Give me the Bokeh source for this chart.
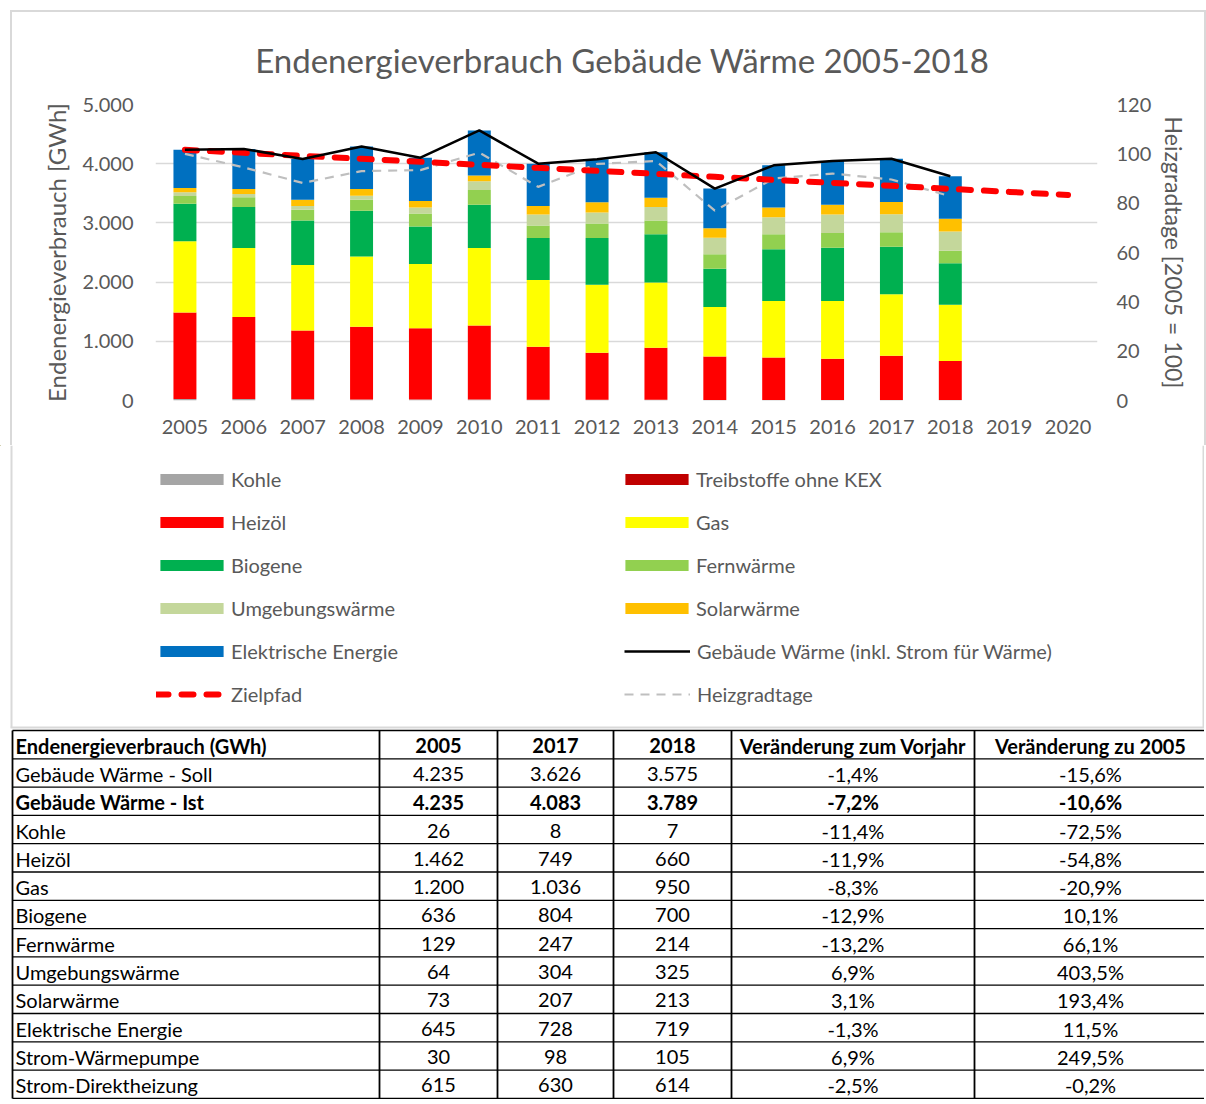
from bokeh.plotting import figure
from bokeh.models import (FactorRange, Range1d, LinearAxis, FixedTicker, CustomJSTickFormatter,
                          Legend, LegendItem, ColumnDataSource)
from bokeh.core.properties import value
from bokeh.embed import file_html
from bokeh.resources import INLINE

FONT = "Lato"
GREY_TXT = "#595959"
BOX = "#d9d9d9"

# ---------------- data ----------------
years = ["2005", "2006", "2007", "2008", "2009", "2010", "2011", "2012",
         "2013", "2014", "2015", "2016", "2017", "2018", "2019", "2020"]
bar_years = ["2005", "2006", "2007", "2008", "2009", "2010", "2011", "2012",
             "2013", "2014", "2015", "2016", "2017", "2018"]

kohle = [26, 24, 20, 19, 17, 16, 13, 12, 11, 10, 10, 9, 8, 7]
treibstoffe = [0, 0, 0, 0, 0, 0, 0, 0, 0, 0, 0, 0, 0, 0]
heizoel = [1462, 1385, 1162, 1225, 1205, 1251, 896, 795, 881, 734, 717, 696, 749, 660]
gas = [1200, 1165, 1108, 1188, 1085, 1307, 1125, 1148, 1102, 836, 955, 977, 1036, 950]
biogene = [636, 693, 750, 773, 631, 733, 710, 789, 813, 647, 875, 898, 804, 700]
fernwaerme = [129, 165, 182, 187, 221, 250, 211, 245, 233, 245, 250, 250, 247, 214]
umgebung = [64, 57, 62, 68, 102, 148, 187, 187, 227, 278, 290, 312, 304, 325]
solar = [73, 85, 108, 114, 108, 96, 142, 171, 159, 159, 164, 165, 207, 213]
elektrisch = [645, 676, 688, 716, 733, 761, 716, 727, 767, 671, 711, 738, 728, 719]

gebaeude_waerme = [4235, 4250, 4080, 4290, 4102, 4562, 4000, 4074, 4193, 3580, 3972, 4045, 4083, 3789]
zielpfad = [4235, 4184, 4133, 4083, 4032, 3981, 3930, 3880, 3829, 3778, 3727, 3677, 3626, 3575, 3524, 3473]
heizgradtage = [100, 94.5, 88.2, 93, 93.4, 100.5, 86.6, 95.9, 97.1, 77, 90, 92, 89.6, 82.8]

left_ticks = [0, 1000, 2000, 3000, 4000, 5000]
right_ticks = [0, 20, 40, 60, 80, 100, 120]

series_names = ["Kohle", "Treibstoffe ohne KEX", "Heizöl", "Gas", "Biogene", "Fernwärme",
                "Umgebungswärme", "Solarwärme", "Elektrische Energie"]
series_colors = ["#a5a5a5", "#c00000", "#ff0000", "#ffff00", "#00b050", "#92d050",
                 "#c4d79b", "#ffc000", "#0070c0"]

table_header = ["Endenergieverbrauch (GWh)", "2005", "2017", "2018",
                "Veränderung zum Vorjahr", "Veränderung zu 2005"]
table_labels = ["Gebäude Wärme - Soll", "Gebäude Wärme - Ist", "Kohle", "Heizöl", "Gas", "Biogene",
                "Fernwärme", "Umgebungswärme", "Solarwärme", "Elektrische Energie",
                "Strom-Wärmepumpe", "Strom-Direktheizung"]
t_2005 = ["4.235", "4.235", "26", "1.462", "1.200", "636", "129", "64", "73", "645", "30", "615"]
t_2017 = ["3.626", "4.083", "8", "749", "1.036", "804", "247", "304", "207", "728", "98", "630"]
t_2018 = ["3.575", "3.789", "7", "660", "950", "700", "214", "325", "213", "719", "105", "614"]
t_vorjahr = ["-1,4%", "-7,2%", "-11,4%", "-11,9%", "-8,3%", "-12,9%", "-13,2%", "6,9%", "3,1%",
             "-1,3%", "6,9%", "-2,5%"]
t_zu2005 = ["-15,6%", "-10,6%", "-72,5%", "-54,8%", "-20,9%", "10,1%", "66,1%", "403,5%",
            "193,4%", "11,5%", "249,5%", "-0,2%"]
bold_rows = [1]

# ---------------- chart (page y 10..445) ----------------
p = figure(width=1196, height=435, x_range=FactorRange(factors=years), y_range=Range1d(0, 5000),
           output_backend="svg", toolbar_location=None,
           min_border_left=143, min_border_right=111, min_border_top=92, min_border_bottom=47)
p.styles = {"margin-left": "10px", "margin-top": "10px", "box-sizing": "border-box",
            "border-top": "2px solid " + BOX, "border-left": "2px solid " + BOX,
            "border-right": "2px solid " + BOX}
p.outline_line_color = None
p.title.text = "Endenergieverbrauch  Gebäude Wärme 2005-2018"
p.title.align = "center"
p.title.vertical_align = "top"
p.title.text_font = FONT
p.title.text_font_size = "33px"
p.title.text_font_style = "normal"
p.title.text_color = GREY_TXT
p.title.standoff = 46

src = ColumnDataSource(dict(year=bar_years, s0=kohle, s1=treibstoffe, s2=heizoel, s3=gas, s4=biogene,
                            s5=fernwaerme, s6=umgebung, s7=solar, s8=elektrisch,
                            total=gebaeude_waerme, hgt=heizgradtage))
stack_keys = ["s0", "s1", "s2", "s3", "s4", "s5", "s6", "s7", "s8"]
p.vbar_stack(stack_keys, x="year", width=0.39, color=series_colors, line_width=0, source=src)

p.extra_y_ranges = {"hgt": Range1d(0, 120)}
HGT_STYLE = dict(line_color="#bfbfbf", line_width=2.2, line_dash="9 7")
ZIEL_STYLE = dict(line_color="#ff0000", line_width=6, line_dash="12 13", line_cap="round")
TOT_STYLE = dict(line_color="black", line_width=2.5)
p.line("year", "hgt", source=src, y_range_name="hgt", **HGT_STYLE)
p.line(years, zielpfad, **ZIEL_STYLE)
p.line("year", "total", source=src, **TOT_STYLE)

fmt = CustomJSTickFormatter(code="""
var s = Math.round(tick).toString();
return s.replace(/\\B(?=(\\d{3})+(?!\\d))/g, '.');
""")
yax = p.yaxis[0]
yax.ticker = FixedTicker(ticks=left_ticks)
yax.formatter = fmt
yax.axis_label = "Endenergieverbrauch [GWh]"

rax = LinearAxis(y_range_name="hgt", ticker=FixedTicker(ticks=right_ticks),
                 axis_label="Heizgradtage [2005 = 100]")
p.add_layout(rax, "right")

for ax in [yax, rax, p.xaxis[0]]:
    ax.axis_line_color = None
    ax.major_tick_line_color = None
    ax.minor_tick_line_color = None
    ax.major_tick_out = 0
    ax.major_tick_in = 0
    ax.minor_tick_out = 0
    ax.major_label_text_font = FONT
    ax.major_label_text_font_size = "20px"
    ax.major_label_text_color = GREY_TXT
    ax.axis_label_text_font = FONT
    ax.axis_label_text_font_style = "normal"
    ax.axis_label_text_color = GREY_TXT
yax.axis_label_text_font_size = "24px"
rax.axis_label_text_font_size = "23px"
yax.major_label_standoff = 22
yax.axis_label_standoff = 8
rax.major_label_standoff = 19
rax.axis_label_standoff = 6
p.xaxis[0].major_label_standoff = 19

p.xgrid.grid_line_color = None
p.ygrid.grid_line_color = BOX
p.ygrid.grid_line_width = 1.5
p.ygrid.ticker = FixedTicker(ticks=left_ticks)

# ---------------- legend + table (page y 445..1102) ----------------
TOP_PAGE = 445
LW, LH = 1204, 657
lp = figure(width=LW, height=LH, x_range=Range1d(0, LW), y_range=Range1d(LH, 0),
            output_backend="svg", toolbar_location=None,
            min_border_left=0, min_border_right=0, min_border_top=0, min_border_bottom=0)
lp.axis.visible = False
lp.grid.grid_line_color = None
lp.outline_line_color = None

# lower part of the chart box
box_bottom = 727 - TOP_PAGE
lp.segment(x0=[11, 1203, 10], x1=[11, 1203, 1204], y0=[0, 0, box_bottom], y1=[box_bottom, box_bottom, box_bottom],
           line_color=BOX, line_width=2)

# legend proxies: one point each, placed outside the visible range
OFF = -1000
proxies = []
for c in series_colors:
    proxies.append(lp.vbar(x=[OFF], top=[OFF], bottom=[OFF - 1], width=1, fill_color=c, line_color=None))
r_ziel = lp.line(x=[OFF, OFF - 1], y=[OFF, OFF], **ZIEL_STYLE)
r_tot = lp.line(x=[OFF, OFF - 1], y=[OFF, OFF], **TOT_STYLE)
r_hgt = lp.line(x=[OFF, OFF - 1], y=[OFF, OFF], **HGT_STYLE)

ROW0, ROW_STEP, HALF = 479, 43, 12


def add_legend(items, x, first_row, gw, standoff):
    last_row = first_row + len(items) - 1
    bottom_page = ROW0 + ROW_STEP * last_row + HALF
    lg = Legend(items=items, location=(x, LH - (bottom_page - TOP_PAGE)), orientation="vertical",
                glyph_width=gw, glyph_height=14, label_standoff=standoff, spacing=ROW_STEP - 2 * HALF,
                label_height=2 * HALF, padding=0, margin=0, border_line_color=None,
                background_fill_alpha=0, label_text_font=FONT, label_text_font_size="20px",
                label_text_color=GREY_TXT)
    lp.add_layout(lg)


add_legend([LegendItem(label=series_names[i], renderers=[proxies[i]]) for i in [0, 2, 4, 6, 8]],
           152, 0, 79, 0)
add_legend([LegendItem(label="Zielpfad", renderers=[r_ziel])], 156, 5, 67, 8)
add_legend([LegendItem(label=series_names[i], renderers=[proxies[i]]) for i in [1, 3, 5, 7]],
           617, 0, 79, 0)
add_legend([LegendItem(label="Gebäude Wärme (inkl. Strom für Wärme)", renderers=[r_tot]),
            LegendItem(label="Heizgradtage", renderers=[r_hgt])], 624, 4, 66, 7)

# table
col_edges = [12, 379, 497, 613, 731, 974, 1206]
row_h = 28.3
top = 730 - TOP_PAGE
columns = [table_labels, t_2005, t_2017, t_2018, t_vorjahr, t_zu2005]
n_rows = len(table_labels) + 1

hy = [top + i * row_h for i in range(n_rows + 1)]
lp.segment(x0=[col_edges[0]] * len(hy), x1=[col_edges[-1]] * len(hy), y0=hy, y1=hy,
           line_color="black", line_width=1.3)
lp.segment(x0=col_edges, x1=col_edges, y0=[top] * len(col_edges), y1=[hy[-1]] * len(col_edges),
           line_color="black", line_width=1.8)

tx, ty, tt, ta, bold = [], [], [], [], []
for j in range(len(columns)):
    xc = col_edges[0] + 3 if j == 0 else (col_edges[j] + col_edges[j + 1]) / 2
    al = "left" if j == 0 else "center"
    cells = [table_header[j]] + columns[j]
    for i, c in enumerate(cells):
        tx.append(xc)
        ty.append(top + (i + 0.5) * row_h + 1)
        tt.append(c)
        ta.append(al)
        bold.append(i == 0 or (i - 1) in bold_rows)

for want_bold in [False, True]:
    idx = [k for k in range(len(tt)) if bold[k] == want_bold]
    s = ColumnDataSource(dict(x=[tx[k] for k in idx], y=[ty[k] for k in idx],
                              t=[tt[k] for k in idx], a=[ta[k] for k in idx]))
    lp.text(x="x", y="y", text="t", text_align="a", text_baseline="middle", source=s,
            text_font=value(FONT), text_font_size="20px", text_color="black",
            text_font_style="bold" if want_bold else "normal")

open("out.html", "w").write(file_html([p, lp], INLINE))
